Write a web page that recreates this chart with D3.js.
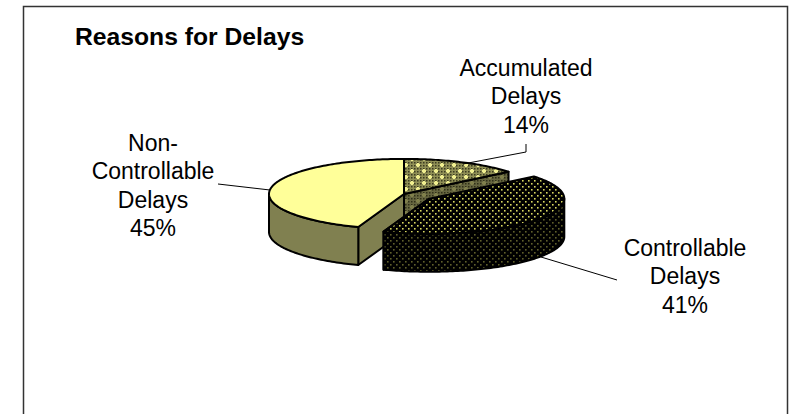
<!DOCTYPE html>
<html><head><meta charset="utf-8">
<script src="https://cdn.jsdelivr.net/npm/d3@7"></script>
<style>html,body{margin:0;padding:0;background:#fff}svg{display:block}text{font-family:"Liberation Sans",Arial,sans-serif;fill:#000}</style>
</head><body><svg id="c" width="793" height="414"></svg>
<script>
const categories = ["Accumulated Delays","Controllable Delays","Non-Controllable Delays"];
const values = [14.1, 41.4, 44.5];
const labelLines = [["Accumulated","Delays"],["Controllable","Delays"],["Non-","Controllable","Delays"]];
const title = "Reasons for Delays";

const svg = d3.select("#c");
const W=793,H=414;
svg.append("rect").attr("x",23.5).attr("y",6.5).attr("width",764).attr("height",H).attr("fill","#fff").attr("stroke","#333").attr("stroke-width",1.5);

const defs = svg.append("defs");
function dotPattern(id,bg,fg){
  const p=defs.append("pattern").attr("id",id).attr("patternUnits","userSpaceOnUse").attr("width",6).attr("height",6);
  p.append("rect").attr("width",6).attr("height",6).attr("fill",bg);
  [[0,0],[3,3]].forEach(([x,y])=>p.append("rect").attr("x",x).attr("y",y).attr("width",1.6).attr("height",1.6).attr("fill",fg));
}
dotPattern("blackTop","#000","#d8d760");
dotPattern("blackSide","#000","#5f5f2a");
function accPattern(id,bg,dark,light){
  const p=defs.append("pattern").attr("id",id).attr("patternUnits","userSpaceOnUse").attr("width",12).attr("height",12);
  p.append("rect").attr("width",12).attr("height",12).attr("fill",bg);
  for(let x=0;x<12;x+=3)for(let y=0;y<12;y+=3)p.append("rect").attr("x",x).attr("y",y).attr("width",1.5).attr("height",1.5).attr("fill",dark);
  [[3,2],[9,8]].forEach(([x,y])=>{
    p.append("rect").attr("x",x).attr("y",y-1).attr("width",2).attr("height",4).attr("fill",light);
    p.append("rect").attr("x",x-1).attr("y",y).attr("width",4).attr("height",2).attr("fill",light);
  });
}
accPattern("accTop","#8f8f55","#3c3c20","#f0ef90");
accPattern("accSide","#666640","#303018","#80804c");

const rx=135, tilt=0.26, depth=38;
const cx=404, cy=194;
const explode=31;
const arcs=d3.pie().sort(null).value(d=>d)(values);
const yS=d3.scaleLinear().domain([0,1]).range([0,rx*tilt]);
const xS=d3.scaleLinear().domain([0,1]).range([0,rx]);
function pt(a,c){return [c[0]+xS(Math.sin(a)), c[1]-yS(Math.cos(a))];}
function rim(a0,a1,c){const n=Math.max(2,Math.ceil((a1-a0)/0.02));return d3.range(n+1).map(i=>pt(a0+(a1-a0)*i/n,c));}
const lineGen=d3.line();
const down=p=>[p[0],p[1]+depth];
function topFace(a0,a1,c){return lineGen([c,...rim(a0,a1,c)])+"Z";}
function wall(a0,a1,c){const r=rim(a0,a1,c);return lineGen([...r,...r.slice().reverse().map(down)])+"Z";}
function face(a,c){const e=pt(a,c);return lineGen([c,e,down(e),down(c)])+"Z";}
function draw(d,fill){return svg.append("path").attr("d",d).attr("fill",fill).attr("stroke","#000").attr("stroke-width",2).attr("stroke-linejoin","round");}

const [acc,con,non]=arcs;
const c0=[cx,cy];
const mid=(con.startAngle+con.endAngle)/2;
const c1=[cx+explode*Math.sin(mid), cy-explode*tilt*Math.cos(mid)];

draw(face(acc.endAngle,c0),"url(#accSide)");
draw(face(acc.startAngle,c0),"url(#accSide)");
draw(topFace(acc.startAngle,acc.endAngle,c0),"url(#accTop)");
draw(face(non.startAngle,c0),"#808050");
draw(wall(non.startAngle,1.5*Math.PI,c0),"#808050");
draw(topFace(non.startAngle,non.endAngle,c0),"#ffff99");
draw(face(con.endAngle,c1),"url(#blackSide)");
draw(wall(Math.PI/2,con.endAngle,c1),"url(#blackSide)");
draw(topFace(con.startAngle,con.endAngle,c1),"url(#blackTop)");

const leaders=[
 [[463,164],[526,152],[526,144]],
 [[541,257],[617,280]],
 [[218,184],[270,190]]
];
leaders.forEach(l=>svg.append("path").attr("d",lineGen(l)).attr("fill","none").attr("stroke","#000").attr("stroke-width",1));

const labelPos=[[526,76],[685,256],[153,151]];
labelPos.forEach((p,i)=>{
  const t=svg.append("text").attr("text-anchor","middle").attr("font-size",23);
  [...labelLines[i],Math.round(values[i])+"%"].forEach((s,j)=>t.append("tspan").attr("x",p[0]).attr("y",p[1]+j*28.3).text(s));
});
svg.append("text").attr("x",75).attr("y",45).attr("font-size",24.7).attr("font-weight","bold").text(title);
</script></body></html>
